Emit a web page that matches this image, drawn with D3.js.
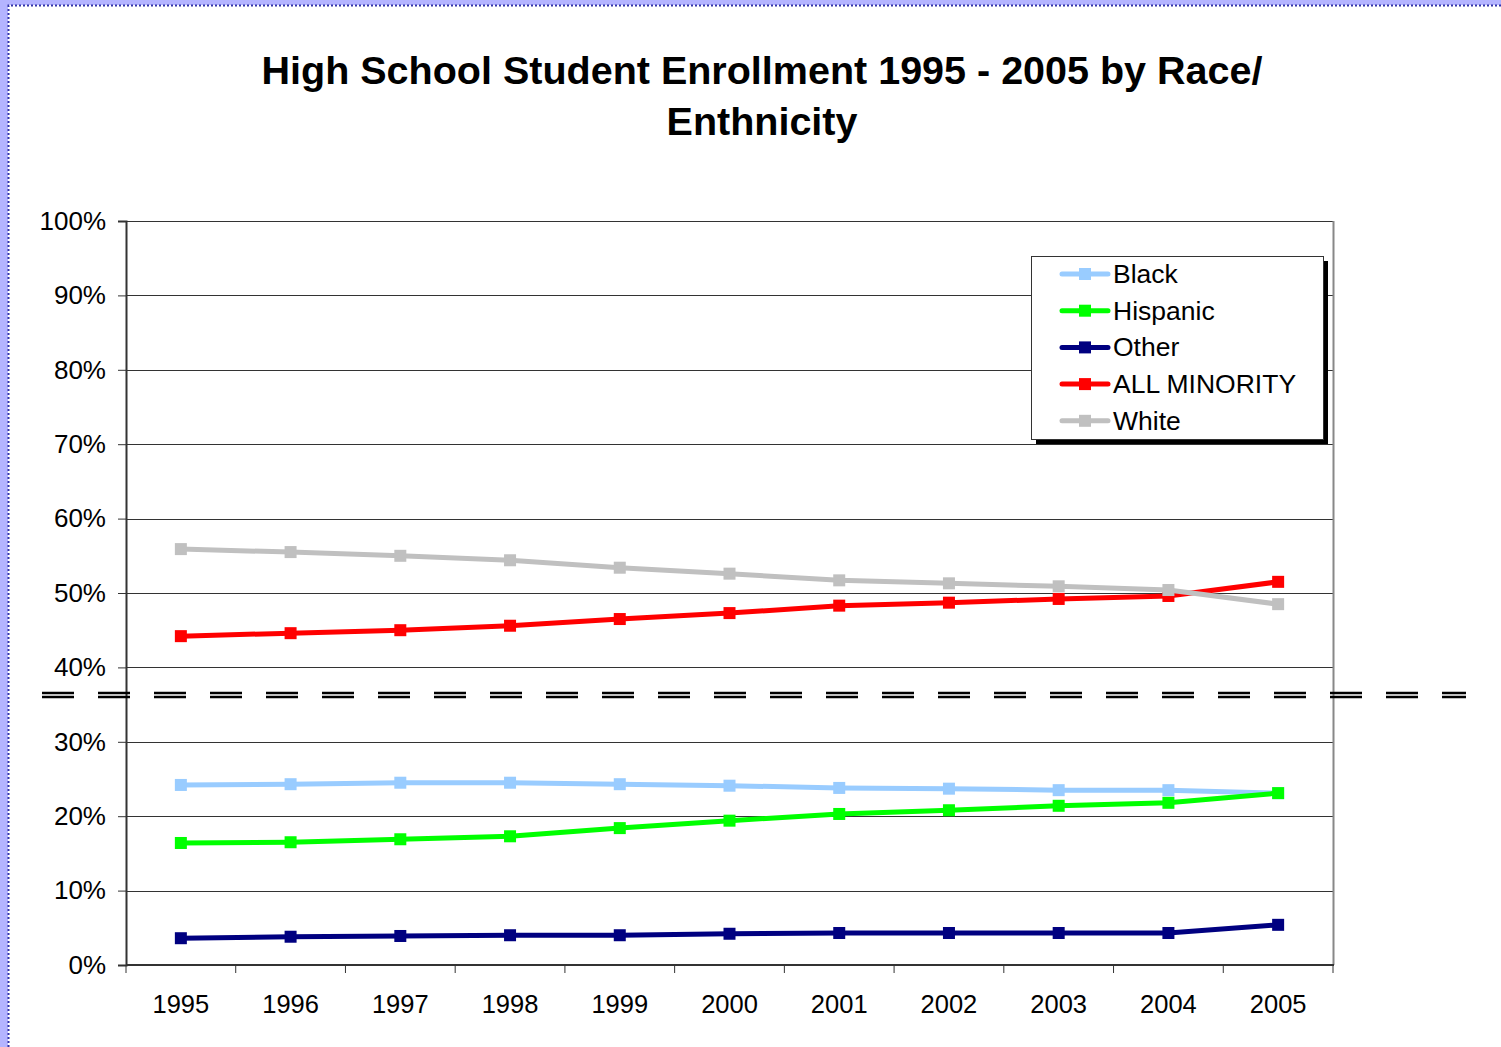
<!DOCTYPE html>
<meta charset="utf-8">
<html>
<head>
<script src="https://d3js.org/d3.v7.min.js"></script>
<style>
  body { margin: 0; background: #b4b4ff; }
  svg { display: block; }
  text { font-family: "Liberation Sans", Arial, sans-serif; }
</style>
</head>
<body>
<script>
  // chart data
  var years = ["1995", "1996", "1997", "1998", "1999", "2000", "2001", "2002", "2003", "2004", "2005"];
  var black = [24.2, 24.3, 24.5, 24.5, 24.3, 24.1, 23.8, 23.7, 23.5, 23.5, 23.1];
  var hispanic = [16.4, 16.5, 16.9, 17.3, 18.4, 19.4, 20.3, 20.8, 21.4, 21.8, 23.1];
  var other = [3.6, 3.8, 3.9, 4.0, 4.0, 4.2, 4.3, 4.3, 4.3, 4.3, 5.4];
  var allMinority = [44.2, 44.6, 45.0, 45.6, 46.5, 47.3, 48.3, 48.7, 49.2, 49.6, 51.5];
  var white = [55.9, 55.5, 55.0, 54.4, 53.4, 52.6, 51.7, 51.3, 50.9, 50.4, 48.5];
  var yTicks = [0, 10, 20, 30, 40, 50, 60, 70, 80, 90, 100];

  var series = [
    { name: "Black", values: black, color: "#99ccff" },
    { name: "Hispanic", values: hispanic, color: "#00ff00" },
    { name: "Other", values: other, color: "#000080" },
    { name: "ALL MINORITY", values: allMinority, color: "#ff0000" },
    { name: "White", values: white, color: "#c0c0c0" }
  ];

  var W = 1501, H = 1047;
  var plot = { left: 126, right: 1333, top: 221, bottom: 965 };

  var svg = d3.select("body").append("svg")
      .attr("width", W)
      .attr("height", H);

  // white page inside the dotted border
  svg.append("rect")
      .attr("x", 8).attr("y", 5)
      .attr("width", W - 8).attr("height", H - 5)
      .attr("fill", "#fff");
  svg.append("path")
      .attr("d", "M8.5," + H + "V5.5H" + W)
      .attr("fill", "none")
      .attr("stroke", "#3333aa")
      .attr("stroke-width", 2)
      .attr("stroke-dasharray", "2,2");

  // title
  svg.append("text")
      .attr("x", 762).attr("y", 84)
      .attr("text-anchor", "middle")
      .style("font-size", "39.5px")
      .style("font-weight", "bold")
      .text("High School Student Enrollment 1995 - 2005 by Race/");
  svg.append("text")
      .attr("x", 762).attr("y", 135)
      .attr("text-anchor", "middle")
      .style("font-size", "39.5px")
      .style("font-weight", "bold")
      .text("Enthnicity");

  var x = d3.scaleBand()
      .domain(years)
      .range([plot.left, plot.right]);

  var y = d3.scaleLinear()
      .domain([0, 100])
      .range([plot.bottom, plot.top]);

  // gridlines
  svg.append("g")
      .selectAll("line")
      .data(yTicks.slice(1))
      .enter().append("line")
      .attr("x1", plot.left).attr("x2", plot.right)
      .attr("y1", function (d) { return Math.round(y(d)) + 0.5; })
      .attr("y2", function (d) { return Math.round(y(d)) + 0.5; })
      .attr("stroke", "#333")
      .attr("stroke-width", 1);

  // right border of the plot area
  svg.append("line")
      .attr("x1", plot.right + 0.5).attr("x2", plot.right + 0.5)
      .attr("y1", plot.top).attr("y2", plot.bottom)
      .attr("stroke", "#888").attr("stroke-width", 2);

  // y axis
  var yAxis = svg.append("g")
      .attr("transform", "translate(" + plot.left + ",0)")
      .call(d3.axisLeft(y)
        .tickValues(yTicks)
        .tickSize(8)
        .tickPadding(12)
        .tickFormat(function (d) { return d + "%"; }));
  yAxis.select(".domain").attr("stroke", "#333").attr("stroke-width", 2);
  yAxis.selectAll(".tick line").attr("stroke", "#333");
  yAxis.selectAll("text")
      .style("font-size", "26px")
      .attr("fill", "#000")
      .attr("font-family", null);

  // x axis with ticks between the categories
  var xAxis = svg.append("g")
      .attr("transform", "translate(0," + plot.bottom + ")");
  xAxis.append("line")
      .attr("x1", plot.left).attr("x2", plot.right + 1)
      .attr("stroke", "#333").attr("stroke-width", 2);
  xAxis.selectAll(".tk")
      .data(years.concat(["end"]))
      .enter().append("line")
      .attr("x1", function (d, i) { return i < years.length ? x(d) : plot.right; })
      .attr("x2", function (d, i) { return i < years.length ? x(d) : plot.right; })
      .attr("y1", 0).attr("y2", 8)
      .attr("stroke", "#333");
  xAxis.selectAll("text")
      .data(years)
      .enter().append("text")
      .attr("x", function (d) { return x(d) + x.bandwidth() / 2; })
      .attr("y", 48)
      .attr("text-anchor", "middle")
      .style("font-size", "25.5px")
      .text(function (d) { return d; });

  // the lines
  var line = d3.line()
      .x(function (d, i) { return x(years[i]) + x.bandwidth() / 2; })
      .y(function (d) { return y(d); });

  var g = svg.append("g");
  series.forEach(function (s) {
    g.append("path")
        .attr("d", line(s.values))
        .attr("fill", "none")
        .attr("stroke", s.color)
        .attr("stroke-width", 5);
    g.selectAll(null)
        .data(s.values)
        .enter().append("rect")
        .attr("x", function (d, i) { return x(years[i]) + x.bandwidth() / 2 - 6; })
        .attr("y", function (d) { return y(d) - 6; })
        .attr("width", 12).attr("height", 12)
        .attr("fill", s.color);
  });

  // broken-scale marker
  [-2, 2].forEach(function (off) {
    svg.append("line")
        .attr("x1", 42).attr("x2", 1466)
        .attr("y1", y(36.3) + off).attr("y2", y(36.3) + off)
        .attr("stroke", "#000")
        .attr("stroke-width", 2.6)
        .attr("stroke-dasharray", "32,24");
  });

  // legend
  var lg = { x: 1031, y: 256, w: 292, h: 183 };
  svg.append("rect")
      .attr("x", lg.x + 5).attr("y", lg.y + 5)
      .attr("width", lg.w).attr("height", lg.h)
      .attr("fill", "#000");
  svg.append("rect")
      .attr("x", lg.x + 0.5).attr("y", lg.y + 0.5)
      .attr("width", lg.w).attr("height", lg.h)
      .attr("fill", "#fff")
      .attr("stroke", "#333");
  var item = svg.selectAll(".lgi")
      .data(series)
      .enter().append("g")
      .attr("transform", function (d, i) { return "translate(" + lg.x + "," + (274 + i * 36.7) + ")"; });
  item.append("line")
      .attr("x1", 31).attr("x2", 77)
      .attr("stroke", function (d) { return d.color; })
      .attr("stroke-width", 5)
      .attr("stroke-linecap", "round");
  item.append("rect")
      .attr("x", 48).attr("y", -6)
      .attr("width", 12).attr("height", 12)
      .attr("fill", function (d) { return d.color; });
  item.append("text")
      .attr("x", 82).attr("y", 9)
      .style("font-size", "26.5px")
      .text(function (d) { return d.name; });
</script>
</body>
</html>
